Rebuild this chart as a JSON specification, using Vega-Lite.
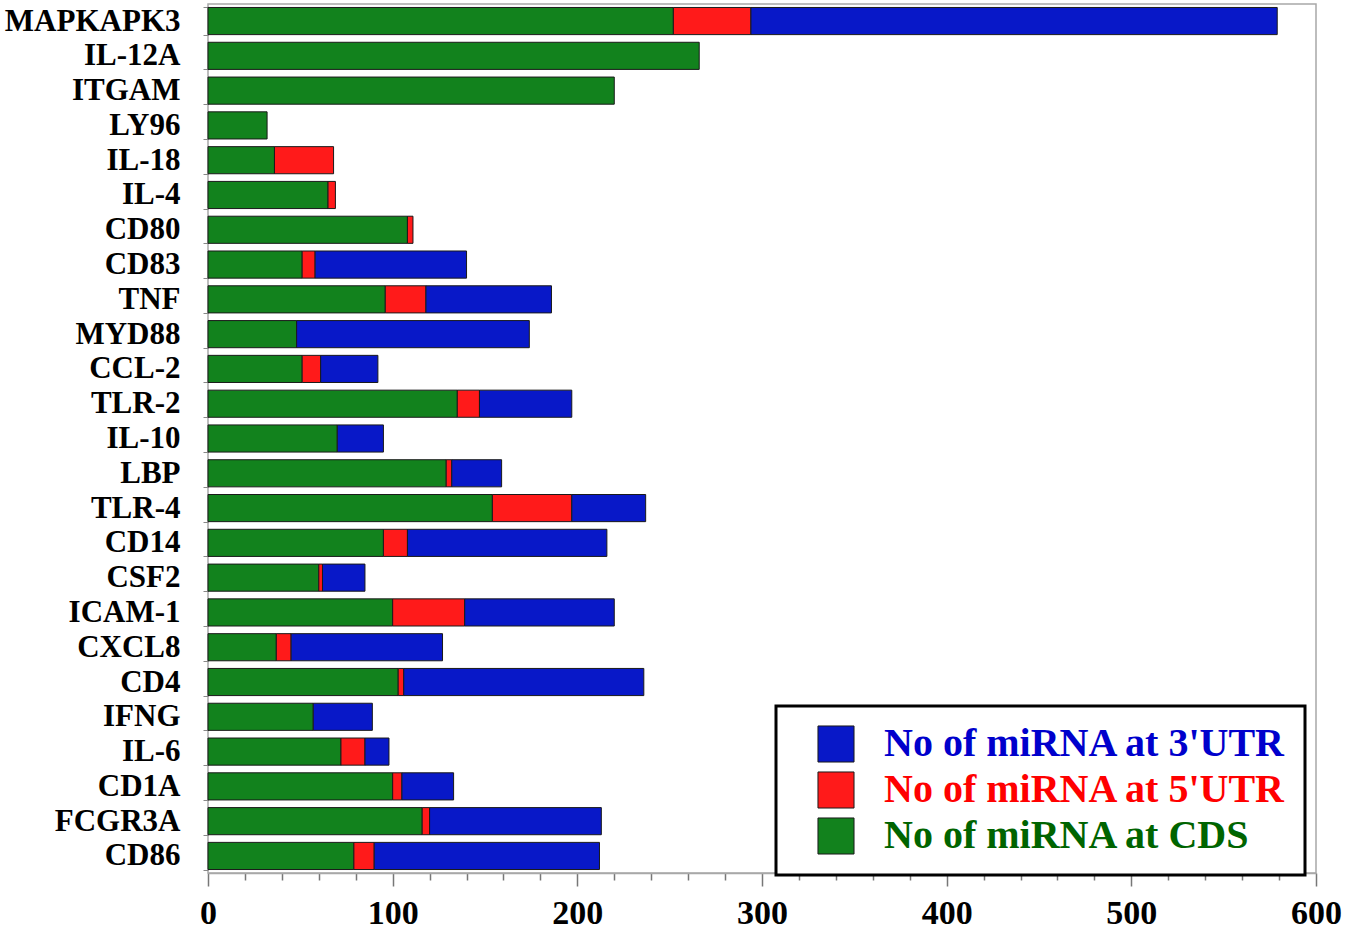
{
  "$schema": "https://vega.github.io/schema/vega-lite/v6.json",
  "width": 1108,
  "height": 869,
  "autosize": "none",
  "padding": {"left": 208, "top": 4, "right": 34, "bottom": 61},
  "background": "white",
  "config": {
    "view": {"stroke": "#a8a8a8", "strokeWidth": 1.5},
    "font": "Liberation Serif"
  },
  "data": {
    "values": [
      {"gene": "MAPKAPK3", "region": "No of miRNA at CDS", "count": 252},
      {"gene": "MAPKAPK3", "region": "No of miRNA at 5'UTR", "count": 42},
      {"gene": "MAPKAPK3", "region": "No of miRNA at 3'UTR", "count": 285},
      {"gene": "IL-12A", "region": "No of miRNA at CDS", "count": 266},
      {"gene": "ITGAM", "region": "No of miRNA at CDS", "count": 220},
      {"gene": "LY96", "region": "No of miRNA at CDS", "count": 32},
      {"gene": "IL-18", "region": "No of miRNA at CDS", "count": 36},
      {"gene": "IL-18", "region": "No of miRNA at 5'UTR", "count": 32},
      {"gene": "IL-4", "region": "No of miRNA at CDS", "count": 65},
      {"gene": "IL-4", "region": "No of miRNA at 5'UTR", "count": 4},
      {"gene": "CD80", "region": "No of miRNA at CDS", "count": 108},
      {"gene": "CD80", "region": "No of miRNA at 5'UTR", "count": 3},
      {"gene": "CD83", "region": "No of miRNA at CDS", "count": 51},
      {"gene": "CD83", "region": "No of miRNA at 5'UTR", "count": 7},
      {"gene": "CD83", "region": "No of miRNA at 3'UTR", "count": 82},
      {"gene": "TNF", "region": "No of miRNA at CDS", "count": 96},
      {"gene": "TNF", "region": "No of miRNA at 5'UTR", "count": 22},
      {"gene": "TNF", "region": "No of miRNA at 3'UTR", "count": 68},
      {"gene": "MYD88", "region": "No of miRNA at CDS", "count": 48},
      {"gene": "MYD88", "region": "No of miRNA at 3'UTR", "count": 126},
      {"gene": "CCL-2", "region": "No of miRNA at CDS", "count": 51},
      {"gene": "CCL-2", "region": "No of miRNA at 5'UTR", "count": 10},
      {"gene": "CCL-2", "region": "No of miRNA at 3'UTR", "count": 31},
      {"gene": "TLR-2", "region": "No of miRNA at CDS", "count": 135},
      {"gene": "TLR-2", "region": "No of miRNA at 5'UTR", "count": 12},
      {"gene": "TLR-2", "region": "No of miRNA at 3'UTR", "count": 50},
      {"gene": "IL-10", "region": "No of miRNA at CDS", "count": 70},
      {"gene": "IL-10", "region": "No of miRNA at 3'UTR", "count": 25},
      {"gene": "LBP", "region": "No of miRNA at CDS", "count": 129},
      {"gene": "LBP", "region": "No of miRNA at 5'UTR", "count": 3},
      {"gene": "LBP", "region": "No of miRNA at 3'UTR", "count": 27},
      {"gene": "TLR-4", "region": "No of miRNA at CDS", "count": 154},
      {"gene": "TLR-4", "region": "No of miRNA at 5'UTR", "count": 43},
      {"gene": "TLR-4", "region": "No of miRNA at 3'UTR", "count": 40},
      {"gene": "CD14", "region": "No of miRNA at CDS", "count": 95},
      {"gene": "CD14", "region": "No of miRNA at 5'UTR", "count": 13},
      {"gene": "CD14", "region": "No of miRNA at 3'UTR", "count": 108},
      {"gene": "CSF2", "region": "No of miRNA at CDS", "count": 60},
      {"gene": "CSF2", "region": "No of miRNA at 5'UTR", "count": 2},
      {"gene": "CSF2", "region": "No of miRNA at 3'UTR", "count": 23},
      {"gene": "ICAM-1", "region": "No of miRNA at CDS", "count": 100},
      {"gene": "ICAM-1", "region": "No of miRNA at 5'UTR", "count": 39},
      {"gene": "ICAM-1", "region": "No of miRNA at 3'UTR", "count": 81},
      {"gene": "CXCL8", "region": "No of miRNA at CDS", "count": 37},
      {"gene": "CXCL8", "region": "No of miRNA at 5'UTR", "count": 8},
      {"gene": "CXCL8", "region": "No of miRNA at 3'UTR", "count": 82},
      {"gene": "CD4", "region": "No of miRNA at CDS", "count": 103},
      {"gene": "CD4", "region": "No of miRNA at 5'UTR", "count": 3},
      {"gene": "CD4", "region": "No of miRNA at 3'UTR", "count": 130},
      {"gene": "IFNG", "region": "No of miRNA at CDS", "count": 57},
      {"gene": "IFNG", "region": "No of miRNA at 3'UTR", "count": 32},
      {"gene": "IL-6", "region": "No of miRNA at CDS", "count": 72},
      {"gene": "IL-6", "region": "No of miRNA at 5'UTR", "count": 13},
      {"gene": "IL-6", "region": "No of miRNA at 3'UTR", "count": 13},
      {"gene": "CD1A", "region": "No of miRNA at CDS", "count": 100},
      {"gene": "CD1A", "region": "No of miRNA at 5'UTR", "count": 5},
      {"gene": "CD1A", "region": "No of miRNA at 3'UTR", "count": 28},
      {"gene": "FCGR3A", "region": "No of miRNA at CDS", "count": 116},
      {"gene": "FCGR3A", "region": "No of miRNA at 5'UTR", "count": 4},
      {"gene": "FCGR3A", "region": "No of miRNA at 3'UTR", "count": 93},
      {"gene": "CD86", "region": "No of miRNA at CDS", "count": 79},
      {"gene": "CD86", "region": "No of miRNA at 5'UTR", "count": 11},
      {"gene": "CD86", "region": "No of miRNA at 3'UTR", "count": 122}
    ]
  },
  "mark": {"type": "bar", "stroke": "#1a1a1a", "strokeWidth": 1},
  "encoding": {
    "y": {
      "field": "gene",
      "type": "nominal",
      "sort": null,
      "scale": {"paddingInner": 0.22, "paddingOuter": 0.1},
      "axis": {
        "title": null,
        "domain": false,
        "tickBand": "extent",
        "tickSize": 5,
        "tickColor": "#888888",
        "labelFont": "Liberation Serif",
        "labelFontSize": 31,
        "labelFontWeight": "bold",
        "labelColor": "black",
        "labelPadding": 23,
        "labelLimit": 0
      }
    },
    "x": {
      "field": "count",
      "type": "quantitative",
      "stack": "zero",
      "scale": {"domain": [0, 600], "nice": false},
      "axis": {
        "title": null,
        "grid": false,
        "values": [0, 20, 40, 60, 80, 100, 120, 140, 160, 180, 200, 220, 240, 260, 280, 300, 320, 340, 360, 380, 400, 420, 440, 460, 480, 500, 520, 540, 560, 580, 600],
        "labelExpr": "datum.value % 100 === 0 ? datum.label : ''",
        "tickSize": {"condition": {"test": "datum.value % 100 === 0", "value": 13}, "value": 7},
        "tickColor": "#777777",
        "tickWidth": 1.5,
        "domainColor": "#a8a8a8",
        "domainWidth": 1.5,
        "labelFont": "Liberation Serif",
        "labelFontSize": 34,
        "labelFontWeight": "bold",
        "labelColor": "black",
        "labelPadding": 10,
        "labelOverlap": false,
        "labelFlush": false
      }
    },
    "color": {
      "field": "region",
      "type": "nominal",
      "scale": {
        "domain": ["No of miRNA at 3'UTR", "No of miRNA at 5'UTR", "No of miRNA at CDS"],
        "range": ["#0818c8", "#ff1a1a", "#12821d"]
      },
      "legend": {
        "title": null,
        "orient": "none",
        "legendX": 568,
        "legendY": 702,
        "fillColor": "white",
        "strokeColor": "black",
        "padding": 18,
        "symbolType": "square",
        "symbolSize": 1300,
        "symbolStrokeColor": "#1a1a1a",
        "symbolStrokeWidth": 1,
        "symbolOffset": 22,
        "labelFont": "Liberation Serif",
        "labelFontSize": 40,
        "labelFontWeight": "bold",
        "labelOffset": 28,
        "labelLimit": 0,
        "rowPadding": 4,
        "encode": {
          "legend": {"update": {"strokeWidth": {"value": 3}}},
          "labels": {
            "update": {
              "fill": {"signal": "test(/CDS/, datum.label) ? '#006400' : test(/5/, datum.label) ? '#ff0000' : '#0000cc'"}
            }
          }
        }
      }
    },
    "order": {"field": "region", "sort": "descending"}
  }
}
